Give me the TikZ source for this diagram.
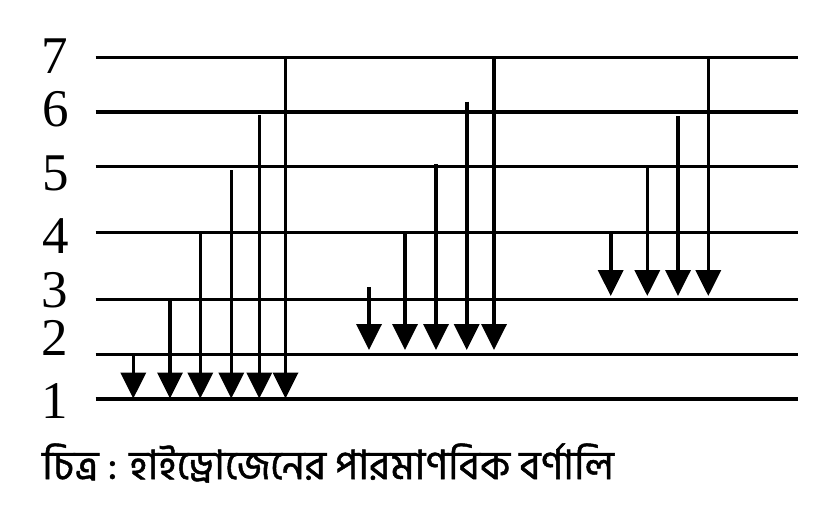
\documentclass[tikz,border=0pt]{standalone}
\usepackage{fontspec}
\setmainfont{Liberation Serif}
\newfontfamily\bn[Script=Bengali,FakeBold=1.2]{Hind Siliguri}
\usetikzlibrary{arrows.meta}
\begin{document}
\begin{tikzpicture}[x=1pt,y=-1pt,
  levelline/.style={line width=3.3pt},
  trans/.style={line width=3.6pt,-{Triangle[width=25pt,length=26pt]}},
  num/.style={font=\fontsize{53}{53}\selectfont, inner sep=0pt}]
\useasboundingbox (0,0) rectangle (834,516);
% energy levels
\foreach \n/\y in {1/399,2/354.7,3/299.5,4/232.8,5/166.5,6/112,7/57.5}{
  \coordinate (L\n a) at (95.7,\y);
  \coordinate (L\n b) at (798,\y);
  \draw[levelline] (L\n a) -- (L\n b);
}
% level numbers
\node[num] (n7) at (55,56) {7};
\node[num] (n6) at (56,109) {6};
\node[num] (n5) at (56,173) {5};
\node[num] (n4) at (56,236) {4};
\node[num] (n3) at (55,290.5) {3};
\node[num] (n2) at (55,337.5) {2};
\node[num] (n1) at (55,401) {1};
% Lyman series
\foreach \i/\x/\ys in {1/133.3/354.5,2/170/299.5,3/200.3/232.8,4/231.3/170,5/259.3/115,6/285.5/57.5}{
  \coordinate (ly\i s) at (\x,\ys);
  \coordinate (ly\i e) at (\x,398.5);
  \draw[trans] (ly\i s) -- (ly\i e);
}
% Balmer series
\foreach \i/\x/\ys in {1/369/287.3,2/405/233,3/436/164.3,4/466.7/101.7,5/494/57.5}{
  \coordinate (ba\i s) at (\x,\ys);
  \coordinate (ba\i e) at (\x,350);
  \draw[trans] (ba\i s) -- (ba\i e);
}
% Paschen series
\foreach \i/\x/\ys in {1/610.7/232.8,2/647.3/167.7,3/678/116,4/708.3/57.5}{
  \coordinate (pa\i s) at (\x,\ys);
  \coordinate (pa\i e) at (\x,296);
  \draw[trans] (pa\i s) -- (pa\i e);
}
% caption
\node[anchor=west, inner sep=0pt, font=\bn\fontsize{40.5}{40.5}\selectfont] (cap) at (42,463) {চিত্র : হাইড্রোজেনের পারমাণবিক বর্ণালি};
\end{tikzpicture}
\end{document}
